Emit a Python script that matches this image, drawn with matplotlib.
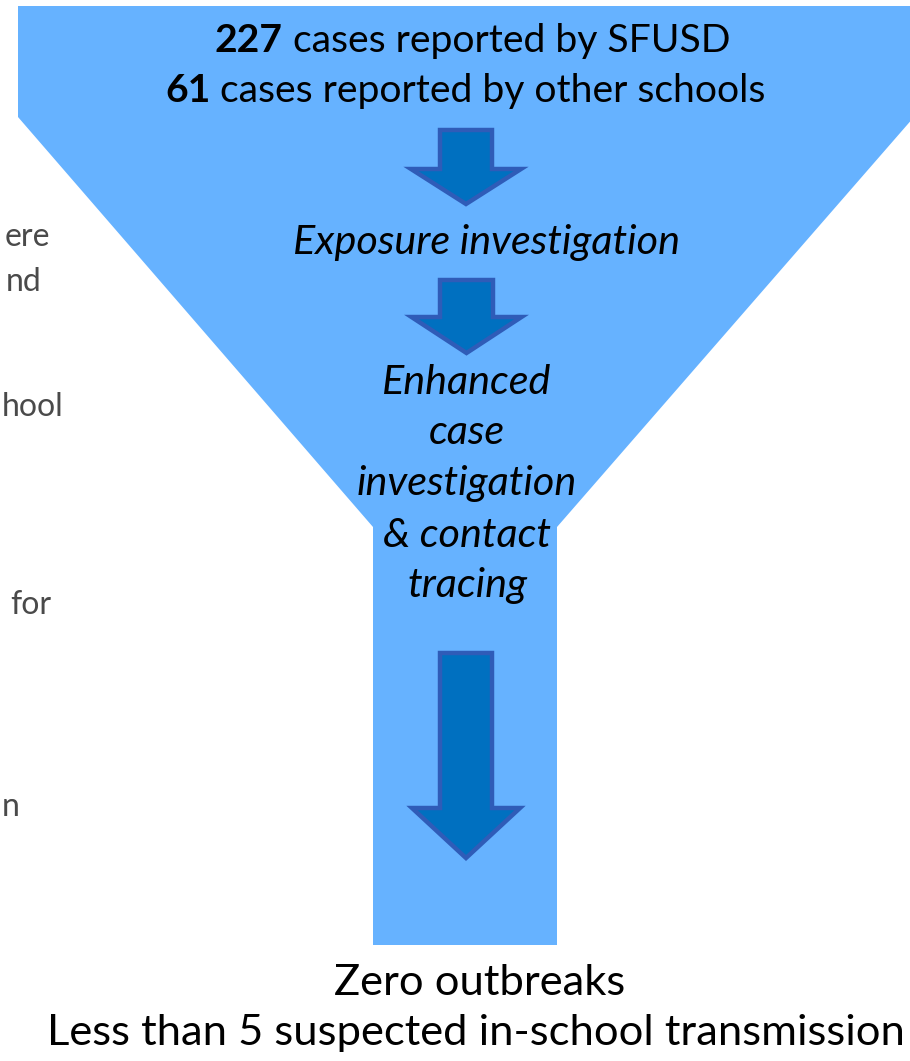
import matplotlib
matplotlib.use("Agg")
import matplotlib.pyplot as plt
from matplotlib.patches import Polygon

# ---- content ----
case_counts = ["227", "61"]
case_sources = ["cases reported by SFUSD", "cases reported by other schools"]
step_one = "Exposure investigation"
step_two_lines = ["Enhanced", "case", "investigation", "& contact", "tracing"]
outcome_labels = ["Zero outbreaks", "Less than 5 suspected in-school transmission"]
side_fragments = ["ere", "nd", "hool", "for", "n"]

W, H = 910, 1061
FONT = ["Lato", "DejaVu Sans"]
FUNNEL = "#66B2FF"
ARROW_FILL = "#0070C0"
ARROW_EDGE = "#2F5CB8"

fig = plt.figure(figsize=(W / 100, H / 100), dpi=100)
ax = fig.add_axes([0, 0, 1, 1])
ax.set_xlim(0, W)
ax.set_ylim(H, 0)
ax.axis("off")
r = fig.canvas.get_renderer()


def width(s, size, **kw):
    t = ax.text(0, 0, s, fontsize=size, family=FONT, **kw)
    w = t.get_window_extent(r).width
    t.remove()
    return w


def space_w(size, **kw):
    return width("n n", size, **kw) - width("nn", size, **kw)


# ---- funnel ----
funnel = Polygon([(18, 6), (914, 6), (914, 117), (557, 527), (557, 945),
                  (373, 945), (373, 527), (18, 117)],
                 closed=True, facecolor=FUNNEL, edgecolor="none", zorder=1)
ax.add_patch(funnel)


def down_arrow(cx, top, shaft_w, head_y, head_w, tip):
    pts = [(cx - shaft_w / 2, top), (cx + shaft_w / 2, top),
           (cx + shaft_w / 2, head_y), (cx + head_w / 2, head_y),
           (cx, tip), (cx - head_w / 2, head_y), (cx - shaft_w / 2, head_y)]
    ax.add_patch(Polygon(pts, closed=True, facecolor=ARROW_FILL,
                         edgecolor=ARROW_EDGE, linewidth=3.2,
                         joinstyle="miter", zorder=2))


down_arrow(466, 130, 52, 169, 110, 204)
down_arrow(466.5, 280, 53, 317, 110, 353)
down_arrow(466, 653, 52, 808, 108, 858)

# ---- top lines (bold count + regular text) ----
ref = 20
w_ref = width(case_counts[1], ref, weight="bold") + space_w(ref) + width(case_sources[1], ref)
top_size = ref * 602 / w_ref
lefts = [215, 165]
bases = [52, 102]
for cnt, src, x0, yb in zip(case_counts, case_sources, lefts, bases):
    ax.text(x0, yb, cnt, fontsize=top_size, family=FONT, weight="bold",
            va="baseline", ha="left", color="black", zorder=3)
    off = width(cnt, top_size, weight="bold") + space_w(top_size)
    ax.text(x0 + off, yb, src, fontsize=top_size, family=FONT,
            va="baseline", ha="left", color="black", zorder=3)

# ---- italic steps ----
it_size = ref * 387 / width(step_one, ref, style="italic")
ax.text(486.5, 254, step_one, fontsize=it_size, family=FONT, style="italic",
        ha="center", va="baseline", zorder=3)
step_bases = [394, 444, 495, 547, 597]
for line, yb in zip(step_two_lines, step_bases):
    ax.text(467, yb, line, fontsize=it_size, family=FONT, style="italic",
            ha="center", va="baseline", zorder=3)

# ---- outcomes ----
out_size = ref * 858 / width(outcome_labels[1], ref)
ax.text(480, 995, outcome_labels[0], fontsize=out_size, family=FONT,
        ha="center", va="baseline", zorder=3)
ax.text(47, 1045, outcome_labels[1], fontsize=out_size, family=FONT,
        ha="left", va="baseline", zorder=3)

# ---- side text fragments (kept fully inside the canvas) ----
side_left = [5, 6, 2, 10, 2]
side_base = [246, 291, 416, 614, 816]
for frag, xl, yb in zip(side_fragments, side_left, side_base):
    ax.text(xl, yb, frag, fontsize=23, family=FONT, weight="normal",
            color="#4a4a4a", ha="left", va="baseline", zorder=3)

fig.savefig("out.png", dpi=100)
